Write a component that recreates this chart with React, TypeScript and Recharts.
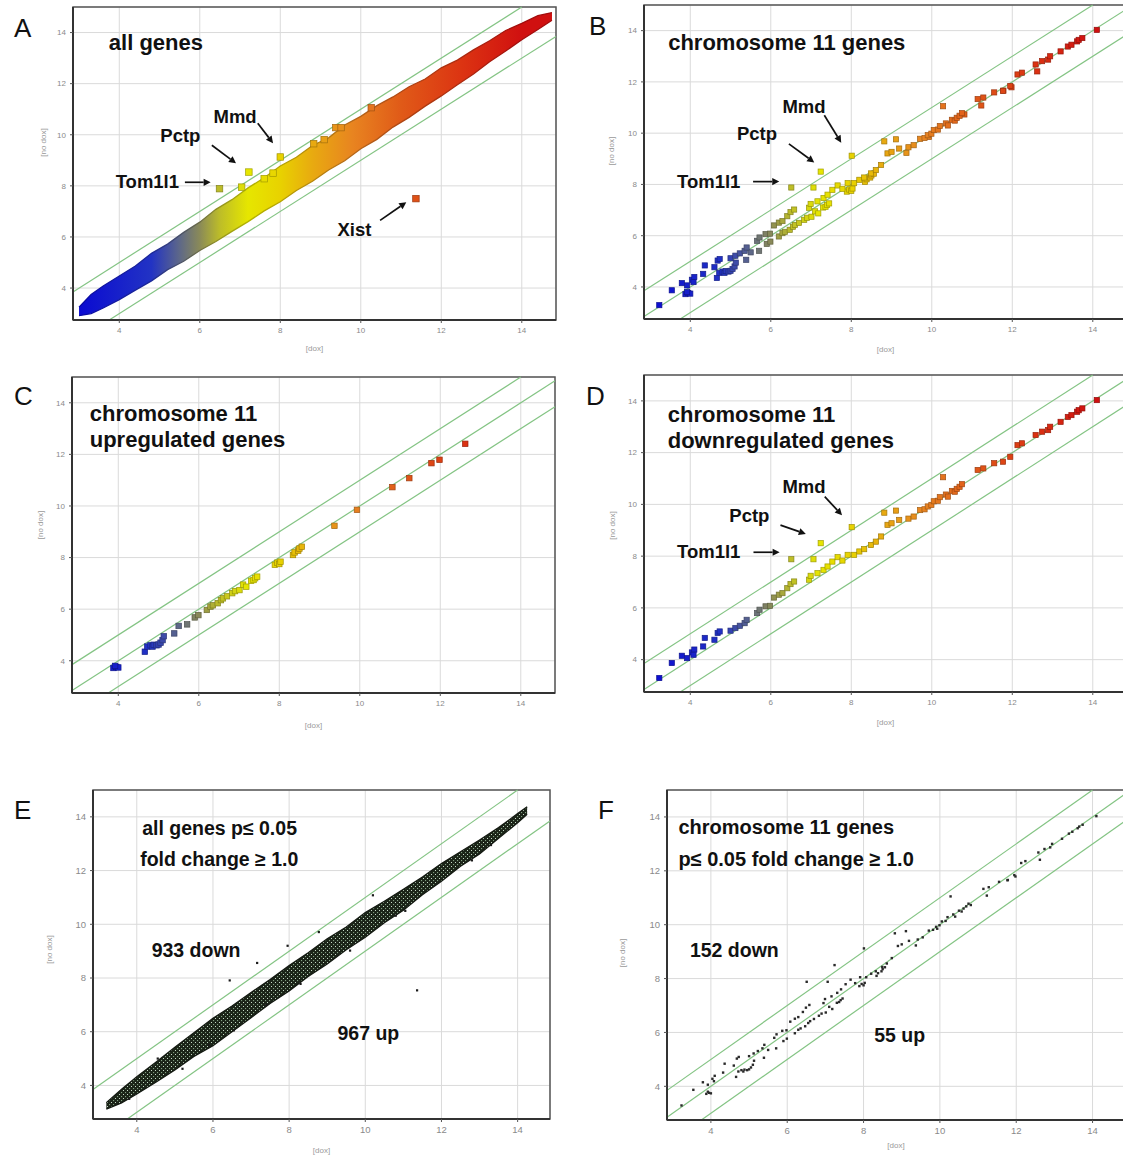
import React from "react";
import {
  Area,
  CartesianGrid,
  ComposedChart,
  ReferenceArea,
  ReferenceDot,
  ReferenceLine,
  Scatter,
  XAxis,
  YAxis,
} from "recharts";

// axis ranges shared by the six panels
const X_MIN = 2.85;
const X_MAX = 14.85;
const Y_MIN = 2.75;
const Y_MAX = 15;
const axisTicks = [4, 6, 8, 10, 12, 14];
const foldOffsets = [1, 0, -1]; // y = x + k guide lines

// all genes (A): outline of the dense cloud
const allBandX = [3.0, 3.3, 3.6, 4.0, 4.4, 4.8, 5.2, 5.6, 6.0, 6.4, 6.8, 7.2, 7.6, 8.0, 8.4, 8.8, 9.2, 9.6, 10.0, 10.4, 10.8, 11.2, 11.6, 12.0, 12.4, 12.8, 13.2, 13.6, 14.0, 14.4, 14.75];
const allBandLow = [2.92, 3.0, 3.22, 3.55, 3.92, 4.28, 4.72, 5.05, 5.47, 5.82, 6.22, 6.6, 7.02, 7.38, 7.82, 8.18, 8.62, 8.98, 9.45, 9.82, 10.3, 10.68, 11.12, 11.52, 11.96, 12.38, 12.86, 13.28, 13.72, 14.12, 14.48];
const allBandHigh = [3.25, 3.75, 4.08, 4.47, 4.86, 5.36, 5.72, 6.18, 6.58, 7.08, 7.46, 7.92, 8.32, 8.78, 9.12, 9.58, 9.88, 10.38, 10.72, 11.14, 11.48, 11.88, 12.18, 12.62, 12.92, 13.32, 13.68, 14.08, 14.36, 14.66, 14.78];
// all genes: single genes standing out of the cloud
const allOutX = [6.49, 7.22, 8.0, 7.04, 7.6, 7.82, 8.83, 9.09, 9.38, 9.51, 10.26, 11.37];
const allOutY = [7.89, 8.54, 9.13, 7.95, 8.28, 8.5, 9.65, 9.81, 10.28, 10.28, 11.06, 7.5];

// all genes p<=0.05 (E): outline of the cloud and loose points
const sigBandX = [3.2, 3.6, 4.0, 4.5, 5.0, 5.5, 6.0, 6.5, 7.0, 7.5, 8.0, 8.5, 9.0, 9.5, 10.0, 10.5, 11.0, 11.5, 12.0, 12.5, 13.0, 13.5, 14.0, 14.25];
const sigBandLow = [3.12, 3.35, 3.68, 4.12, 4.58, 5.08, 5.48, 6.0, 6.52, 7.05, 7.52, 8.06, 8.52, 9.05, 9.52, 10.06, 10.52, 11.1, 11.6, 12.16, 12.62, 13.2, 13.78, 14.1];
const sigBandHigh = [3.36, 3.86, 4.32, 4.86, 5.42, 5.96, 6.5, 6.96, 7.46, 7.94, 8.46, 8.94, 9.46, 9.9, 10.44, 10.86, 11.3, 11.76, 12.26, 12.7, 13.14, 13.6, 14.12, 14.38];
const sigOutX = [6.44, 7.16, 7.96, 8.78, 10.2, 11.36, 6.55, 5.9, 4.55, 5.2, 9.6, 11.05, 12.8, 8.3, 10.8, 7.4, 3.8, 13.3];
const sigOutY = [7.91, 8.56, 9.2, 9.71, 11.08, 7.54, 6.05, 5.5, 5.0, 4.62, 9.02, 10.5, 12.38, 7.78, 10.32, 7.0, 3.5, 12.95];

// chromosome 11, upregulated genes (C)
const chr11UpX = [3.88, 3.95, 4.0, 3.92, 4.66, 4.72, 4.8, 4.85, 4.88, 4.95, 5.0, 5.05, 5.1, 5.13, 5.39, 5.5, 5.71, 5.9, 5.99, 6.2, 6.29, 6.35, 6.47, 6.55, 6.6, 6.7, 6.83, 6.9, 7.01, 7.1, 7.18, 7.3, 7.36, 7.4, 7.45, 7.89, 7.95, 8.0, 8.03, 8.34, 8.38, 8.47, 8.5, 8.56, 9.37, 9.93, 10.81, 11.23, 11.78, 11.98, 12.62];
const chr11UpY = [3.72, 3.76, 3.74, 3.8, 4.35, 4.55, 4.6, 4.55, 4.62, 4.6, 4.63, 4.7, 4.8, 4.95, 5.06, 5.35, 5.41, 5.68, 5.77, 5.97, 6.1, 6.15, 6.23, 6.35, 6.42, 6.5, 6.62, 6.7, 6.74, 6.95, 6.87, 7.1, 7.13, 7.2, 7.26, 7.72, 7.8, 7.75, 7.84, 8.1, 8.2, 8.27, 8.35, 8.42, 9.23, 9.85, 10.73, 11.08, 11.66, 11.79, 12.41];

// chromosome 11, downregulated genes (D)
const chr11DownX = [3.23, 3.54, 3.79, 3.92, 4.04, 4.1, 4.08, 4.32, 4.36, 4.6, 4.68, 4.73, 5.0, 5.12, 5.23, 5.35, 5.4, 5.66, 5.72, 5.87, 5.98, 6.08, 6.2, 6.29, 6.41, 6.49, 6.58, 6.51, 6.95, 6.99, 7.06, 7.16, 7.24, 7.31, 7.41, 7.53, 7.66, 7.78, 7.91, 8.01, 8.07, 8.2, 8.32, 8.49, 8.61, 8.74, 8.82, 8.9, 9.0, 9.11, 9.19, 9.42, 9.55, 9.71, 9.82, 9.9, 9.99, 10.05, 10.15, 10.2, 10.28, 10.35, 10.4, 10.5, 10.57, 10.62, 10.69, 10.75, 11.14, 11.28, 11.55, 11.77, 11.95, 12.13, 12.24, 12.58, 12.74, 12.89, 12.94, 13.2, 13.38, 13.47, 13.61, 13.65, 13.74, 14.1];
const chr11DownY = [3.29, 3.87, 4.15, 4.06, 4.28, 4.39, 4.19, 4.51, 4.84, 4.77, 5.03, 5.09, 5.12, 5.22, 5.31, 5.41, 5.54, 5.8, 5.93, 6.06, 6.08, 6.4, 6.51, 6.57, 6.76, 6.92, 7.02, 7.88, 7.09, 7.24, 7.88, 7.34, 8.5, 7.47, 7.6, 7.79, 7.96, 7.83, 8.05, 9.12, 8.05, 8.18, 8.27, 8.43, 8.56, 8.76, 9.68, 9.21, 9.27, 9.76, 9.4, 9.45, 9.53, 9.78, 9.81, 9.92, 9.98, 10.12, 10.14, 10.28, 11.05, 10.38, 10.3, 10.52, 10.49, 10.6, 10.68, 10.78, 11.33, 11.39, 11.59, 11.65, 11.84, 12.29, 12.36, 12.68, 12.81, 12.87, 13.0, 13.19, 13.38, 13.45, 13.58, 13.64, 13.71, 14.03];

const FONT = '"Liberation Sans", Arial, Helvetica, sans-serif';
const YW = 52;
const XH = 40;

// intensity colour scale (blue -> yellow -> red)
const COLOR_STOPS: [number, string][] = [
  [3.0, "#0a0ad2"],
  [4.8, "#2233c4"],
  [5.5, "#5e6888"],
  [6.0, "#8a8a58"],
  [6.5, "#bdbd28"],
  [7.2, "#e6e600"],
  [8.0, "#e8d200"],
  [8.8, "#e8aa10"],
  [9.8, "#e88420"],
  [11.0, "#e05a18"],
  [12.5, "#dc3412"],
  [14.0, "#d01010"],
];

const hexRgb = (h: string) => [1, 3, 5].map((i) => parseInt(h.slice(i, i + 2), 16));

function colorAt(v: number, k = 1) {
  let i = 0;
  while (i < COLOR_STOPS.length - 2 && v > COLOR_STOPS[i + 1][0]) i++;
  const [x0, c0] = COLOR_STOPS[i];
  const [x1, c1] = COLOR_STOPS[i + 1];
  const t = Math.max(0, Math.min(1, (v - x0) / (x1 - x0)));
  const a = hexRgb(c0);
  const b = hexRgb(c1);
  const rgb = a.map((u, j) => Math.round((u + (b[j] - u) * t) * k));
  return `rgb(${rgb.join(",")})`;
}

const toPoints = (xs: number[], ys: number[]) => xs.map((x, i) => ({ x, y: ys[i] }));
const toBand = (xs: number[], lo: number[], hi: number[]) =>
  xs.map((x, i) => ({ x, range: [lo[i], hi[i]] }));

const allGenesBand = toBand(allBandX, allBandLow, allBandHigh);
const allGenesOut = toPoints(allOutX, allOutY);
const sigBand = toBand(sigBandX, sigBandLow, sigBandHigh);
const sigOut = toPoints(sigOutX, sigOutY);
const chr11Up = toPoints(chr11UpX, chr11UpY);
const chr11Down = toPoints(chr11DownX, chr11DownY);
const chr11All = [...chr11Up, ...chr11Down];

const colorSquare = (size: number) => (p: any) => {
  if (p.cx == null || p.cy == null) return <g />;
  return (
    <rect
      x={p.cx - size / 2}
      y={p.cy - size / 2}
      width={size}
      height={size}
      fill={colorAt(p.payload.x)}
      stroke={colorAt(p.payload.x, 0.7)}
      strokeWidth={0.7}
    />
  );
};

const darkDot = (size: number, fill: string) => (p: any) => {
  if (p.cx == null || p.cy == null) return <g />;
  return <rect x={p.cx - size / 2} y={p.cy - size / 2} width={size} height={size} fill={fill} />;
};

const arrowShape = (p: any) => {
  const { x1, y1, x2, y2 } = p;
  const a = Math.atan2(y2 - y1, x2 - x1);
  const L = 7;
  const W = 3.6;
  const bx = x2 - L * Math.cos(a);
  const by = y2 - L * Math.sin(a);
  const pts = `${x2},${y2} ${bx + W * Math.sin(a)},${by - W * Math.cos(a)} ${bx - W * Math.sin(a)},${by + W * Math.cos(a)}`;
  return (
    <g>
      <line x1={x1} y1={y1} x2={bx} y2={by} stroke="#111" strokeWidth={1.7} />
      <polygon points={pts} fill="#111" />
    </g>
  );
};

function foldSegment(k: number) {
  const xs = Math.max(X_MIN, Y_MIN - k);
  const xe = Math.min(X_MAX, Y_MAX - k);
  return [
    { x: xs, y: xs + k },
    { x: xe, y: xe + k },
  ];
}

type Txt = { s: string; x: number; y: number; size: number };
type Arrow = [number, number, number, number];

type PanelCfg = {
  key: string;
  box: { l: number; t: number; w: number; h: number };
  band?: { x: number; range: number[] }[];
  bandFill?: string;
  bandStroke?: string;
  points: { x: number; y: number }[];
  marker: (p: any) => React.ReactElement;
  tickFont: number;
  xLabDy: number;
  yLab: [number, number];
  texts: Txt[];
  arrows: Arrow[];
};

const G = 18.5; // gene label size

const panels: PanelCfg[] = [
  {
    key: "A",
    box: { l: 73, t: 7, w: 483, h: 313 },
    band: allGenesBand,
    bandFill: "url(#bandGrad)",
    bandStroke: "url(#bandGradEdge)",
    points: allGenesOut,
    marker: colorSquare(6.5),
    tickFont: 8,
    xLabDy: 29,
    yLab: [29, -21],
    texts: [
      { s: "all genes", x: 3.74, y: 13.3, size: 22 },
      { s: "Mmd", x: 6.34, y: 10.45, size: G },
      { s: "Pctp", x: 5.02, y: 9.7, size: G },
      { s: "Tom1l1", x: 3.91, y: 7.9, size: G },
      { s: "Xist", x: 9.42, y: 6.02, size: G },
    ],
    arrows: [
      [7.44, 10.45, 7.82, 9.67],
      [6.3, 9.59, 6.9, 8.88],
      [5.63, 8.14, 6.27, 8.14],
      [10.48, 6.65, 11.13, 7.36],
    ],
  },
  {
    key: "B",
    box: { l: 644, t: 5, w: 483, h: 314 },
    points: chr11All,
    marker: colorSquare(5.2),
    tickFont: 8,
    xLabDy: 31,
    yLab: [32, -11],
    texts: [
      { s: "chromosome 11 genes", x: 3.45, y: 13.23, size: 22 },
      { s: "Mmd", x: 6.29, y: 10.78, size: G },
      { s: "Pctp", x: 5.16, y: 9.73, size: G },
      { s: "Tom1l1", x: 3.67, y: 7.86, size: G },
    ],
    arrows: [
      [7.33, 10.7, 7.75, 9.63],
      [6.45, 9.58, 7.08, 8.86],
      [5.56, 8.11, 6.21, 8.11],
    ],
  },
  {
    key: "C",
    box: { l: 72, t: 377, w: 483, h: 316 },
    points: chr11Up,
    marker: colorSquare(5.5),
    tickFont: 8,
    xLabDy: 33,
    yLab: [31, -10],
    texts: [
      { s: "chromosome 11", x: 3.29, y: 13.31, size: 22 },
      { s: "upregulated genes", x: 3.29, y: 12.3, size: 22 },
    ],
    arrows: [],
  },
  {
    key: "D",
    box: { l: 644, t: 375, w: 483, h: 317 },
    points: chr11Down,
    marker: colorSquare(5.2),
    tickFont: 8,
    xLabDy: 31,
    yLab: [31, -8],
    texts: [
      { s: "chromosome 11", x: 3.44, y: 13.19, size: 22 },
      { s: "downregulated genes", x: 3.44, y: 12.16, size: 22 },
      { s: "Mmd", x: 6.29, y: 10.45, size: G },
      { s: "Pctp", x: 4.97, y: 9.33, size: G },
      { s: "Tom1l1", x: 3.67, y: 7.92, size: G },
    ],
    arrows: [
      [7.34, 10.3, 7.77, 9.58],
      [6.24, 9.2, 6.87, 8.86],
      [5.57, 8.15, 6.22, 8.15],
    ],
  },
  {
    key: "E",
    box: { l: 93, t: 790, w: 457, h: 329 },
    band: sigBand,
    bandFill: "url(#speck)",
    bandStroke: "#141a12",
    points: sigOut,
    marker: darkDot(2.2, "#1a1a1a"),
    tickFont: 9.5,
    xLabDy: 32,
    yLab: [43, -5],
    texts: [
      { s: "all genes p\u2264 0.05", x: 4.14, y: 13.34, size: 19.5 },
      { s: "fold change \u2265 1.0", x: 4.09, y: 12.16, size: 19.5 },
      { s: "933 down", x: 4.39, y: 8.78, size: 19.5 },
      { s: "967 up", x: 9.27, y: 5.68, size: 19.5 },
    ],
    arrows: [],
  },
  {
    key: "F",
    box: { l: 667, t: 790, w: 458, h: 330 },
    points: chr11All,
    marker: darkDot(2.4, "#2a2a2a"),
    tickFont: 9.5,
    xLabDy: 26,
    yLab: [44, -2],
    texts: [
      { s: "chromosome 11 genes", x: 3.15, y: 13.35, size: 20 },
      { s: "p\u2264 0.05 fold change \u2265 1.0", x: 3.15, y: 12.17, size: 20 },
      { s: "152 down", x: 3.45, y: 8.8, size: 19.5 },
      { s: "55 up", x: 8.28, y: 5.64, size: 19.5 },
    ],
    arrows: [],
  },
];

const letters = [
  { s: "A", x: 14, y: 37 },
  { s: "B", x: 589, y: 35 },
  { s: "C", x: 14, y: 405 },
  { s: "D", x: 586, y: 405 },
  { s: "E", x: 14, y: 819 },
  { s: "F", x: 598, y: 819 },
];

const b0 = allBandX[0];
const b1 = allBandX[allBandX.length - 1];
const gradOffset = (v: number) => Math.max(0, Math.min(1, (v - b0) / (b1 - b0)));

function Panel({ cfg }: { cfg: PanelCfg }) {
  const { box } = cfg;
  const tick = { fontSize: cfg.tickFont, fill: "#8a8a8a", fontFamily: FONT };
  // the y = x line is buried under the dense clouds in A and E
  const folds = cfg.band ? foldOffsets.filter((k) => k !== 0) : foldOffsets;
  return (
    <div style={{ position: "absolute", left: box.l - YW, top: box.t - 2 }}>
      <ComposedChart
        width={YW + box.w + 2}
        height={box.h + XH + 2}
        data={cfg.band ?? []}
        margin={{ top: 2, right: 2, left: 0, bottom: 0 }}
      >
        <defs>
          <linearGradient id="bandGrad" x1="0" y1="0" x2="1" y2="0">
            {COLOR_STOPS.map(([v, c]) => (
              <stop key={v} offset={gradOffset(v)} stopColor={c} />
            ))}
          </linearGradient>
          <linearGradient id="bandGradEdge" x1="0" y1="0" x2="1" y2="0">
            {COLOR_STOPS.map(([v]) => (
              <stop key={v} offset={gradOffset(v)} stopColor={colorAt(v, 0.78)} />
            ))}
          </linearGradient>
          <pattern id="speck" width="4" height="4" patternUnits="userSpaceOnUse">
            <rect width="4" height="4" fill="#1b2418" />
            <rect x="0" y="0" width="1.1" height="1.1" fill="#7f9e7f" />
            <rect x="2" y="2" width="1" height="1" fill="#c6d8c6" />
          </pattern>
        </defs>
        <CartesianGrid stroke="#dadada" strokeWidth={1} />
        <XAxis
          type="number"
          dataKey="x"
          domain={[X_MIN, X_MAX]}
          ticks={axisTicks}
          allowDataOverflow
          height={XH}
          tick={tick}
          tickSize={3}
          tickMargin={4}
          tickLine={{ stroke: "#555" }}
          axisLine={{ stroke: "#333", strokeWidth: 2 }}
          label={{
            content: (p: any) => {
              const vb = p.viewBox;
              return (
                <text
                  x={vb.x + vb.width / 2}
                  y={vb.y + cfg.xLabDy}
                  textAnchor="middle"
                  dominantBaseline="middle"
                  fontSize={8}
                  fill="#9a9a9a"
                  fontFamily={FONT}
                >
                  [dox]
                </text>
              );
            },
          }}
        />
        <YAxis
          type="number"
          domain={[Y_MIN, Y_MAX]}
          ticks={axisTicks}
          allowDataOverflow
          width={YW}
          tick={tick}
          tickSize={3}
          tickMargin={4}
          tickLine={{ stroke: "#555" }}
          axisLine={{ stroke: "#333", strokeWidth: 2 }}
          label={{
            content: (p: any) => {
              const vb = p.viewBox;
              const cx = vb.x + vb.width - cfg.yLab[0];
              const cy = vb.y + vb.height / 2 + cfg.yLab[1];
              return (
                <text
                  x={cx}
                  y={cy}
                  transform={`rotate(-90 ${cx} ${cy})`}
                  textAnchor="middle"
                  dominantBaseline="middle"
                  fontSize={8}
                  fill="#9a9a9a"
                  fontFamily={FONT}
                >
                  [no dox]
                </text>
              );
            },
          }}
        />
        {folds.map((k) => (
          <ReferenceLine key={`fold${k}`} segment={foldSegment(k)} stroke="#84c484" strokeWidth={1.2} />
        ))}
        {cfg.band && (
          <Area
            dataKey="range"
            type="linear"
            fill={cfg.bandFill}
            fillOpacity={1}
            stroke={cfg.bandStroke}
            strokeWidth={1.3}
            isAnimationActive={false}
          />
        )}
        <Scatter data={cfg.points} dataKey="y" shape={cfg.marker} isAnimationActive={false} />
        <ReferenceArea
          x1={X_MIN}
          x2={X_MAX}
          y1={Y_MIN}
          y2={Y_MAX}
          fill="none"
          fillOpacity={0}
          stroke="#555"
          strokeWidth={1.5}
          ifOverflow="visible"
        />
        {cfg.arrows.map((a, i) => (
          <ReferenceLine
            key={`arr${i}`}
            segment={[
              { x: a[0], y: a[1] },
              { x: a[2], y: a[3] },
            ]}
            ifOverflow="visible"
            shape={arrowShape}
          />
        ))}
        {cfg.texts.map((t, i) => (
          <ReferenceDot
            key={`txt${i}`}
            x={t.x}
            y={t.y}
            r={0}
            ifOverflow="visible"
            shape={(p: any) => (
              <text x={p.cx} y={p.cy} fontSize={t.size} fontWeight="bold" fontFamily={FONT} fill="#111">
                {t.s}
              </text>
            )}
          />
        ))}
      </ComposedChart>
    </div>
  );
}

export default function App() {
  return (
    <div
      style={{
        position: "absolute",
        left: 0,
        top: 0,
        width: 1123,
        height: 1159,
        overflow: "hidden",
        background: "#fff",
        fontFamily: FONT,
      }}
    >
      {panels.map((cfg) => (
        <Panel key={cfg.key} cfg={cfg} />
      ))}
      <svg width={1123} height={1159} style={{ position: "absolute", left: 0, top: 0, pointerEvents: "none" }}>
        {letters.map((l) => (
          <text key={l.s} x={l.x} y={l.y} fontSize={26} fontFamily={FONT} fill="#111">
            {l.s}
          </text>
        ))}
      </svg>
    </div>
  );
}
